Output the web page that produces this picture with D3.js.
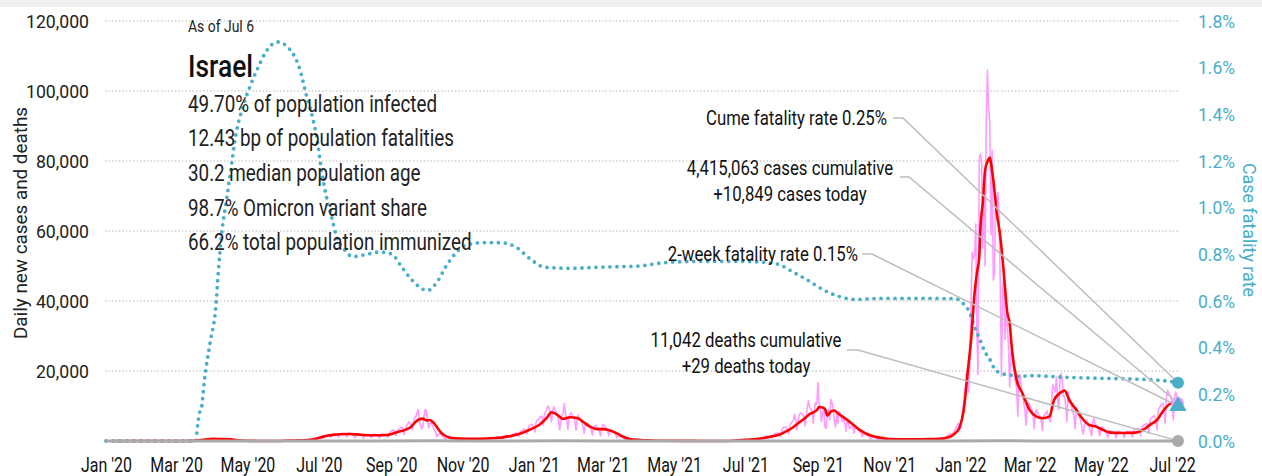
<!DOCTYPE html>
<html>
<head>
<meta charset="utf-8">
<script src="https://cdn.jsdelivr.net/npm/d3@7"></script>
<style>
  html, body { margin: 0; padding: 0; background: #fff; }
  svg { display: block; font-family: Roboto, "Liberation Sans", sans-serif; }
</style>
</head>
<body>
<svg id="chart" width="1262" height="476"></svg>
<script>
// ---- Data -------------------------------------------------------------

const country = "Israel";
const asOf = "As of Jul 6";
const stats = [
  "49.70% of population infected",
  "12.43 bp of population fatalities",
  "30.2 median population age",
  "98.7% Omicron variant share",
  "66.2% total population immunized"
];

const leftTicks = [20000, 40000, 60000, 80000, 100000, 120000];
const rightTicks = [0, 0.2, 0.4, 0.6, 0.8, 1.0, 1.2, 1.4, 1.6, 1.8];
const xTickDates = ["2020-01-01", "2020-03-01", "2020-05-01", "2020-07-01", "2020-09-01", "2020-11-01",
                    "2021-01-01", "2021-03-01", "2021-05-01", "2021-07-01", "2021-09-01", "2021-11-01",
                    "2022-01-01", "2022-03-01", "2022-05-01", "2022-07-01"];

// Daily new cases, one inner array per month (2020 starts in March)
const dailyCases2020 = [
  [2,3,3,5,5,4,2,8,10,15,20,30,35,25,60,70,85,110,130,170,140,280,330,400,450,500,520,380,600,650,700],
  [720,700,650,480,600,640,600,580,560,520,380,560,540,520,500,480,430,300,350,250,180,150,130,110,70,110,100,80,60,50],
  [40,20,30,25,20,15,15,12,8,15,14,12,10,8,10,20,25,20,15,10,10,8,6,10,20,25,30,80,100,60,90],
  [120,110,130,110,120,80,140,150,180,170,150,140,100,220,250,280,300,320,300,200,400,450,500,550,600,620,400,800,900,1000],
  [1100,1200,1300,900,1400,1600,1500,1500,1700,1800,1100,1400,2000,1900,1900,1800,1700,1200,1900,2100,2200,2000,2100,1900,1200,1800,2300,2200,2100,1900,1500],
  [900,1500,2000,2000,1800,1700,1500,800,1300,1700,1800,1900,1800,1500,900,1500,1900,1900,1800,1700,1400,900,1600,2100,2000,1900,1800,1700,1000,2000,2500],
  [2800,3100,3100,2600,1500,2700,3300,3400,3800,4000,3500,1900,3000,4200,4800,5500,5000,4700,3300,5000,6800,6900,8000,8900,6500,4400,3500,4000,7000,9000],
  [8700,6000,3800,5000,5500,4500,3800,3000,2500,1200,1800,2000,2000,1700,1400,1100,500,1000,1100,900,800,900,700,400,700,750,700,800,750,600,300],
  [600,700,750,650,700,600,300,550,700,750,700,650,600,300,500,700,750,700,800,700,350,600,850,900,950,900,800,450,800,1100],
  [1200,1100,1100,1000,600,1100,1400,1500,1600,1600,1500,900,1500,1900,2000,2200,2300,2100,1300,2300,2900,3000,3300,3400,3100,2000,3400,4300,4500,4800,4600]
];
const dailyCases2021 = [
  [3600,2600,5400,6100,6200,6700,7100,6800,4500,7700,8300,9200,10000,9600,8200,5500,8600,9800,8900,8400,7800,6200,3200,5700,7300,7800,10700,8000,6500,3400,6000],
  [7800,8000,7300,6800,5600,3000,6200,7400,6200,5900,5300,4200,2200,4600,5200,4800,4400,4000,3400,1700,3500,4300,4400,4000,3600,3000,1500,3100],
  [4800,4400,4000,3700,3100,1500,2600,3300,3000,2600,2300,1800,900,1500,1400,1300,1200,1000,800,350,600,600,550,500,400,350,150,300,300,280,250],
  [250,200,100,180,200,200,180,160,150,70,140,150,140,120,110,90,40,80,100,120,110,100,80,40,70,80,70,60,60,50],
  [30,40,50,40,45,35,30,15,35,40,40,35,30,25,10,25,30,25,20,20,15,8,15,20,20,15,15,12,5,12,15],
  [15,12,10,10,5,10,8,10,12,10,8,5,8,10,12,15,10,8,5,40,120,110,100,180,200,150,250,300,350,380],
  [400,350,250,450,400,550,600,550,450,300,700,750,850,900,1100,900,600,1300,1400,1300,1200,1300,1200,800,1700,2100,2200,2200,2300,2100,1300],
  [2800,3800,3900,4000,3800,3600,2000,4200,5200,5500,5800,7600,6000,3200,5800,7400,8000,7800,7500,7000,4300,7000,10000,11500,9500,9200,8500,5000,9000,11000,10500],
  [16700,11000,9000,5500,8000,9500,4000,3500,8000,9000,6000,11900,11000,9500,6000,4000,7500,5000,8500,8000,6500,5500,6500,5000,2800,6000,5500,3500,4000,4200],
  [4000,2200,4200,3800,3300,3000,2700,2200,1200,2100,2000,1800,1600,1400,1200,600,1200,1100,1000,900,850,700,400,800,700,650,600,550,500,250,550],
  [550,600,550,500,450,200,500,550,550,500,500,450,200,500,600,600,550,550,500,250,550,650,650,600,600,550,250,600,700,700],
  [650,650,600,300,600,650,600,600,600,550,300,600,700,750,800,900,850,500,1000,1300,1500,1800,2100,2000,1300,2600,3000,3800,4400,5000,4500]
];
const dailyCases2022 = [
  [3500,6500,9000,12000,15000,19000,21000,14000,24000,40000,54000,52000,53000,62000,30000,19000,81000,82000,80000,55000,72000,50000,92000,106000,95000,91000,59000,83000,46000,48000,70000],
  [68000,71000,64000,44000,18500,43000,48000,29000,36000,33000,27000,15500,25000,26000,22000,19000,17000,15000,7000,17500,19000,15000,13000,11000,9000,4500,10000,11000],
  [10500,9500,9000,7500,3500,8000,9000,8000,7500,7000,6000,3000,7000,7500,8000,8500,7000,6000,5500,12000,16000,15000,14000,18300,12000,9000,16500,19300,17500,13000,12500],
  [10000,5500,14000,11000,12000,9500,8500,7000,3500,9500,8500,7500,6500,5500,3500,2000,4500,5500,6000,4500,4000,3000,1500,5000,6500,5000,4500,4000,3000,1500],
  [3500,4000,3800,3000,2500,2200,1000,2800,3000,2700,2500,2400,2000,900,2500,2800,2600,2500,2400,2200,1000,2400,2800,2700,2600,2500,2300,1100,2700,3300,3400],
  [3500,3600,3300,1500,3800,4300,4700,4800,5000,4500,2200,5600,6500,6800,7000,7200,6000,3200,8500,9500,10000,10500,10800,9000,5000,12000,14500,13800,13000,12500],
  [11000,6000,12500,14000,13000,10849]
];

// 7-day average of new cases
const avgDates = ["2020-01-07","2020-03-08","2020-03-15","2020-03-19","2020-03-22","2020-03-26","2020-04-02","2020-04-10","2020-04-17","2020-04-20","2020-04-23","2020-04-30","2020-05-10","2020-05-25","2020-06-05","2020-06-15","2020-06-26","2020-07-01","2020-07-05","2020-07-09","2020-07-13","2020-07-19","2020-07-26","2020-08-03","2020-08-11","2020-08-20","2020-08-28","2020-09-02","2020-09-08","2020-09-14","2020-09-18","2020-09-22","2020-09-25","2020-09-28","2020-10-01","2020-10-04","2020-10-07","2020-10-10","2020-10-13","2020-10-16","2020-10-20","2020-10-26","2020-11-05","2020-11-15","2020-11-24","2020-12-03","2020-12-09","2020-12-14","2020-12-20","2020-12-26","2020-12-31",
  "2021-01-06","2021-01-12","2021-01-16","2021-01-19","2021-01-22","2021-01-26","2021-02-01","2021-02-07","2021-02-12","2021-02-18","2021-02-24","2021-03-01","2021-03-07","2021-03-13","2021-03-18","2021-03-24","2021-04-02","2021-04-12","2021-04-25","2021-05-15","2021-06-10","2021-06-20","2021-06-28","2021-07-05","2021-07-13","2021-07-19","2021-07-25","2021-07-31","2021-08-05","2021-08-09","2021-08-16","2021-08-21","2021-08-25","2021-08-31","2021-09-02","2021-09-05","2021-09-07","2021-09-09","2021-09-12","2021-09-15","2021-09-18","2021-09-22","2021-09-27","2021-10-01","2021-10-07","2021-10-15","2021-10-24","2021-11-01","2021-11-15","2021-12-01","2021-12-14","2021-12-20","2021-12-24","2021-12-27","2021-12-31",
  "2022-01-04","2022-01-07","2022-01-10","2022-01-13","2022-01-15","2022-01-17","2022-01-18","2022-01-20","2022-01-22","2022-01-24","2022-01-26","2022-01-27","2022-01-29","2022-02-01","2022-02-04","2022-02-07","2022-02-10","2022-02-12","2022-02-14","2022-02-18","2022-02-23","2022-03-01","2022-03-07","2022-03-12","2022-03-18","2022-03-22","2022-03-27","2022-03-31","2022-04-04","2022-04-10","2022-04-15","2022-04-21","2022-04-27","2022-05-03","2022-05-09","2022-05-20","2022-05-31","2022-06-06","2022-06-12","2022-06-18","2022-06-24","2022-06-30","2022-07-05","2022-07-06"];
const avgCases = [0,5,40,120,260,430,600,580,500,380,180,90,20,20,100,180,450,850,1250,1550,1750,1950,2000,1900,1650,1650,1700,2100,2700,3300,4100,5500,6200,6400,5900,6000,5300,4000,2600,1700,1100,750,650,620,750,950,1250,1550,2100,2850,3600,
  4700,6600,8200,7900,7200,6300,6800,6600,5500,4100,3400,3400,3000,2200,1300,600,280,150,80,30,12,60,250,400,650,1000,1400,1950,2800,3500,5300,6600,7700,8800,9700,9600,9200,7300,8400,8700,7900,7000,5800,4700,3100,1700,950,550,480,520,600,900,1400,2100,3800,
  9600,19400,28900,42300,48000,52700,61000,68000,77400,79800,81000,79400,74600,65100,58400,48000,36600,33700,26000,17400,13600,8900,6950,6500,6950,11700,13700,14400,11700,8900,6500,4600,4100,3150,2400,2300,2400,3150,4600,6000,8900,10800,11200,11100];

// Daily deaths
const deathDates = ["2020-01-01","2020-03-20","2020-04-05","2020-05-15","2020-07-15","2020-08-20","2020-10-05","2020-11-10","2020-12-15","2021-01-25","2021-03-01","2021-04-20","2021-06-15","2021-08-25","2021-09-10","2021-11-15","2021-12-25","2022-02-01","2022-03-01","2022-04-15","2022-05-20","2022-07-06"];
const deathValues = [0,0,15,2,5,15,45,20,20,65,35,3,0,25,30,5,3,55,30,8,3,29];

// Cumulative case fatality rate, %
const cfrDates = ["2020-01-01","2020-03-18","2020-03-19","2020-03-20","2020-03-21","2020-03-23","2020-03-24","2020-03-25","2020-03-30","2020-04-04","2020-04-06","2020-04-09","2020-04-13","2020-04-17","2020-04-21","2020-04-27","2020-05-04","2020-05-10","2020-05-17","2020-05-27","2020-06-06","2020-06-15","2020-06-20","2020-06-26","2020-06-30","2020-07-03","2020-07-07","2020-07-12","2020-07-16","2020-07-23","2020-07-30","2020-08-11","2020-08-22","2020-09-02","2020-09-08","2020-09-17","2020-09-25","2020-10-02","2020-10-10","2020-10-18","2020-10-27","2020-11-04","2020-11-18","2020-12-03","2020-12-17","2020-12-29",
  "2021-01-10","2021-02-01","2021-02-26","2021-04-01","2021-04-22","2021-05-23","2021-06-26","2021-07-20","2021-07-31","2021-08-10","2021-08-23","2021-09-06","2021-09-20","2021-10-03","2021-10-24","2021-11-27","2021-12-27","2021-12-31",
  "2022-01-04","2022-01-08","2022-01-14","2022-01-18","2022-01-21","2022-01-26","2022-01-30","2022-02-05","2022-02-12","2022-02-20","2022-03-03","2022-04-01","2022-04-29","2022-05-27","2022-06-25","2022-07-06"];
const cfrValues = [0,0,0.05,0.09,0.12,0.15,0.2,0.25,0.42,0.58,0.72,0.89,1.03,1.17,1.31,1.43,1.53,1.6,1.67,1.71,1.68,1.59,1.49,1.38,1.28,1.17,1.06,0.96,0.88,0.82,0.79,0.8,0.81,0.8,0.76,0.7,0.66,0.645,0.68,0.75,0.81,0.84,0.85,0.85,0.83,0.78,
  0.745,0.74,0.745,0.75,0.764,0.77,0.77,0.765,0.754,0.726,0.69,0.647,0.618,0.607,0.611,0.611,0.61,0.605,
  0.585,0.56,0.476,0.43,0.39,0.35,0.31,0.29,0.283,0.277,0.28,0.273,0.269,0.266,0.258,0.25];

const twoWeekRate = 0.15;
const casesToday = 10849;
const deathsToday = 29;

// ---- Scales -------------------------------------------------------------

const parse = d3.utcParse("%Y-%m-%d");
const endDate = parse("2022-07-06");

const x = d3.scaleUtc().domain([parse("2020-01-01"), endDate]).range([106, 1178]);
const yL = d3.scaleLinear().domain([0, 120000]).range([441, 21]);
const yR = d3.scaleLinear().domain([0, 1.8]).range([441, 21]);

const teal = "#4aaec8";
const pink = "#ff9cff";
const red = "#ff0000";
const grey = "#aaaaaa";

function byMonth(year, firstMonth, months) {
  return months.flatMap((vals, mi) =>
    vals.map((v, di) => ({ date: new Date(Date.UTC(year, firstMonth + mi, di + 1)), value: v })));
}
const daily = [
  ...byMonth(2020, 2, dailyCases2020),
  ...byMonth(2021, 0, dailyCases2021),
  ...byMonth(2022, 0, dailyCases2022)
];
const zip = (ds, vs) => ds.map((d, i) => ({ date: parse(d), value: vs[i] }));
const avg = zip(avgDates, avgCases);
const deaths = zip(deathDates, deathValues);
const cfr = zip(cfrDates, cfrValues);

// ---- Text helpers: the typeface is set narrow by squeezing each string ----

const svg = d3.select("#chart");

function natural(str, size, weight) {
  const t = svg.append("text").attr("font-size", size).attr("font-weight", weight || 400).text(str);
  const w = t.node().getComputedTextLength();
  t.remove();
  return w;
}
// squeeze every text of a selection by the factor that gives `sample` the width `target`
function narrow(sel, sample, size, target, weight) {
  const k = target / natural(sample, size, weight);
  sel.each(function () {
    const w = this.getComputedTextLength();
    this.setAttribute("textLength", (w * k).toFixed(1));
    this.setAttribute("lengthAdjust", "spacingAndGlyphs");
  });
}

// ---- Drawing ------------------------------------------------------------

svg.append("rect").attr("x", 0).attr("y", 0).attr("width", 1262).attr("height", 7).attr("fill", "#f0f0f0");

// gridlines
svg.append("g").selectAll("line").data(leftTicks).join("line")
  .attr("x1", 105).attr("x2", 1180)
  .attr("y1", d => yL(d)).attr("y2", d => yL(d))
  .attr("stroke", "#b8b8b8").attr("stroke-width", 1).attr("stroke-dasharray", "1.5,2");

// axes
const axL = svg.append("g").attr("transform", "translate(89,0)")
  .call(d3.axisLeft(yL).tickValues(leftTicks).tickSize(0).tickPadding(0).tickFormat(d3.format(",")));
axL.attr("font-family", null).attr("font-size", null).select(".domain").remove();
axL.selectAll("text").attr("font-size", 19).attr("fill", "#222");
narrow(axL.selectAll("text"), "120,000", 19, 63);

const axR = svg.append("g").attr("transform", "translate(1198,0)")
  .call(d3.axisRight(yR).tickValues(rightTicks).tickSize(0).tickPadding(0).tickFormat(d => d.toFixed(1) + "%"));
axR.attr("font-family", null).attr("font-size", null).select(".domain").remove();
axR.selectAll("text").attr("font-size", 19).attr("fill", teal);
narrow(axR.selectAll("text"), "1.8%", 19, 37);

const axB = svg.append("g").attr("transform", "translate(0,441)")
  .call(d3.axisBottom(x).tickValues(xTickDates.map(parse)).tickSize(0).tickPadding(17).tickFormat(d3.utcFormat("%b '%y")));
axB.attr("font-family", null).attr("font-size", null).select(".domain").remove();
axB.selectAll("text").attr("font-size", 20).attr("fill", "#111");
narrow(axB.selectAll("text"), "Jan '20", 20, 51);

// axis titles
const tL = svg.append("text").attr("transform", "translate(27,223) rotate(-90)")
  .attr("text-anchor", "middle").attr("font-size", 18).attr("fill", "#222")
  .text("Daily new cases and deaths");
narrow(tL, "Daily new cases and deaths", 18, 232);
const tR = svg.append("text").attr("transform", "translate(1243,230) rotate(90)")
  .attr("text-anchor", "middle").attr("font-size", 18).attr("fill", teal)
  .text("Case fatality rate");
narrow(tR, "Case fatality rate", 18, 134);

// series
const lineL = d3.line().x(d => x(d.date)).y(d => yL(d.value));
const lineLs = d3.line().curve(d3.curveMonotoneX).x(d => x(d.date)).y(d => yL(d.value));
const lineR = d3.line().curve(d3.curveMonotoneX).x(d => x(d.date)).y(d => yR(d.value));

svg.append("path").datum(daily).attr("d", lineL)
  .attr("fill", "none").attr("stroke", pink).attr("stroke-width", 1.6).attr("stroke-linejoin", "round");

svg.append("path").datum(cfr).attr("d", lineR)
  .attr("fill", "none").attr("stroke", teal).attr("stroke-width", 3.8)
  .attr("stroke-linecap", "round").attr("stroke-dasharray", "0 7");

svg.append("path").datum(avg).attr("d", lineLs)
  .attr("fill", "none").attr("stroke", red).attr("stroke-width", 2.6).attr("stroke-linejoin", "round");

svg.append("path").datum(deaths).attr("d", lineL)
  .attr("fill", "none").attr("stroke", grey).attr("stroke-width", 3);

// annotations
const ex = x(endDate);
const markers = {
  cume: [ex, yR(cfrValues[cfrValues.length - 1])],
  cases: [ex, yL(casesToday)],
  twoWeek: [ex, yR(twoWeekRate)],
  deaths: [ex, yL(deathsToday)]
};

const leaders = [
  { from: [893, 118], knee: [903, 118], to: markers.cume },
  { from: [900, 177], knee: [909, 177], to: markers.cases },
  { from: [862, 254], knee: [872, 254], to: markers.twoWeek },
  { from: [847, 350], knee: [858, 350], to: markers.deaths }
];
svg.append("g").selectAll("polyline").data(leaders).join("polyline")
  .attr("points", d => [d.from, d.knee, d.to].map(p => p.join(",")).join(" "))
  .attr("fill", "none").attr("stroke", "#bdbdbd").attr("stroke-width", 1.5);

svg.append("circle").attr("cx", markers.cases[0]).attr("cy", markers.cases[1]).attr("r", 6).attr("fill", pink);
svg.append("circle").attr("cx", markers.cume[0]).attr("cy", markers.cume[1]).attr("r", 6).attr("fill", teal);
svg.append("path").attr("d", d3.symbol(d3.symbolTriangle, 130)())
  .attr("transform", `translate(${markers.twoWeek[0]},${markers.twoWeek[1]})`).attr("fill", teal);
svg.append("circle").attr("cx", markers.deaths[0]).attr("cy", markers.deaths[1]).attr("r", 6).attr("fill", grey);

const labels = [
  { x: 887, y: 125, anchor: "end", text: "Cume fatality rate " + cfrValues[cfrValues.length - 1].toFixed(2) + "%" },
  { x: 790, y: 175, anchor: "middle", text: "4,415,063 cases cumulative" },
  { x: 790, y: 201, anchor: "middle", text: "+" + d3.format(",")(casesToday) + " cases today" },
  { x: 858, y: 261, anchor: "end", text: "2-week fatality rate " + twoWeekRate.toFixed(2) + "%" },
  { x: 746, y: 347, anchor: "middle", text: "11,042 deaths cumulative" },
  { x: 746, y: 373, anchor: "middle", text: "+" + deathsToday + " deaths today" }
];
const annot = svg.append("g").selectAll("text").data(labels).join("text")
  .attr("x", d => d.x).attr("y", d => d.y).attr("text-anchor", d => d.anchor)
  .attr("font-size", 21).attr("fill", "#111").text(d => d.text);
narrow(annot, "Cume fatality rate 0.25%", 21, 181);

// headline block
const tAsOf = svg.append("text").attr("x", 188).attr("y", 32).attr("font-size", 16).attr("fill", "#222").text(asOf);
narrow(tAsOf, asOf, 16, 66);
const tName = svg.append("text").attr("x", 188).attr("y", 77).attr("font-size", 32).attr("font-weight", 500)
  .attr("fill", "#111").text(country);
narrow(tName, country, 32, 65, 500);
const tStats = svg.append("g").selectAll("text").data(stats).join("text")
  .attr("x", 188).attr("y", (d, i) => 111.5 + i * 34.7)
  .attr("font-size", 23).attr("fill", "#222").text(d => d);
narrow(tStats, stats[0], 23, 249);
</script>
</body>
</html>
